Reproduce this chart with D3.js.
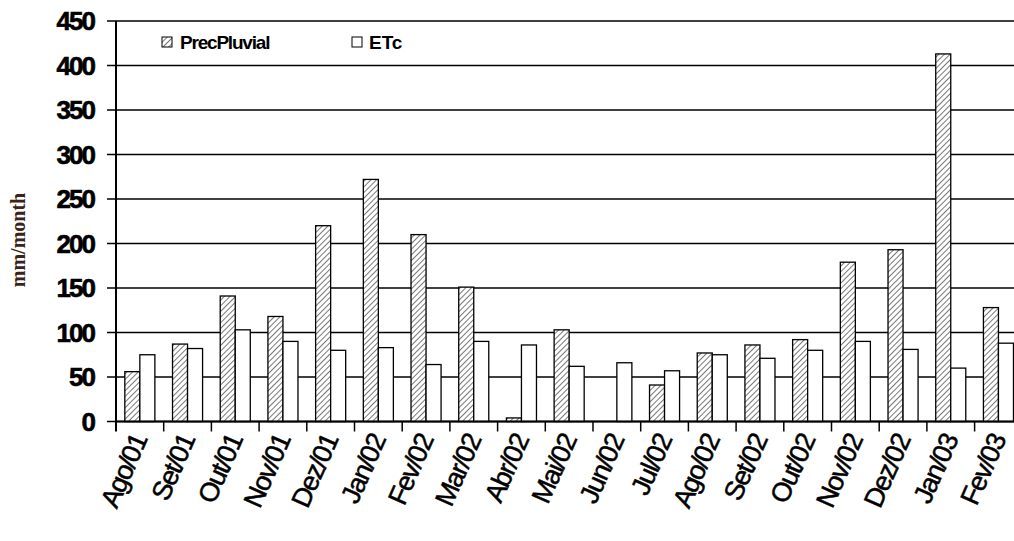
<!DOCTYPE html>
<html><head><meta charset="utf-8">
<script src="https://cdn.jsdelivr.net/npm/d3@7/dist/d3.min.js"></script>
<style>body{margin:0;background:#fff}</style>
</head><body>
<svg id="chart" width="1014" height="541"></svg>
<script>
const months = ['Ago/01','Set/01','Out/01','Nov/01','Dez/01','Jan/02','Fev/02','Mar/02','Abr/02','Mai/02','Jun/02','Jul/02','Ago/02','Set/02','Out/02','Nov/02','Dez/02','Jan/03','Fev/03'];
const precPluvial = [56, 87, 141, 118, 220, 272, 210, 151, 4, 103, 0, 41, 77, 86, 92, 179, 193, 413, 128];
const etc = [75, 82, 103, 90, 80, 83, 64, 90, 86, 62, 66, 57, 75, 71, 80, 90, 81, 60, 88];
const yTicks = [0, 50, 100, 150, 200, 250, 300, 350, 400, 450];

const svg = d3.select('#chart');
const plotLeft = 116, plotTop = 21, plotBottom = 421.5;
const x = d3.scaleBand().domain(months).range([plotLeft, plotLeft + 47.7 * months.length]).paddingInner(0.37).paddingOuter(0.185);
const y = d3.scaleLinear().domain([0, 450]).range([plotBottom, plotTop]);

const defs = svg.append('defs');
const pat = defs.append('pattern').attr('id', 'hatch').attr('patternUnits', 'userSpaceOnUse')
    .attr('width', 4).attr('height', 4).attr('patternTransform', 'rotate(45)');
pat.append('rect').attr('width', 4).attr('height', 4).attr('fill', '#fff');
pat.append('line').attr('x1', 0).attr('y1', 0).attr('x2', 0).attr('y2', 4).attr('stroke', '#555').attr('stroke-width', 1.6);

// gridlines
svg.append('g').selectAll('line').data(yTicks).join('line')
    .attr('x1', plotLeft - 9).attr('x2', 1014).attr('y1', d => y(d)).attr('y2', d => y(d))
    .attr('stroke', '#000').attr('stroke-width', 1.5);
svg.append('g').selectAll('text').data(yTicks).join('text')
    .attr('x', 94).attr('y', d => y(d) + 9).attr('text-anchor', 'end')
    .attr('font-family', 'Liberation Sans, Arial, sans-serif').attr('font-weight', 'bold')
    .attr('font-size', 26).attr('letter-spacing', -2).attr('stroke', '#000').attr('stroke-width', 0.6).text(d => d);

const sub = d3.scaleBand().domain(['p', 'e']).range([0, x.bandwidth()]);
const g = svg.append('g').selectAll('g').data(months).join('g').attr('transform', d => `translate(${x(d)},0)`);
g.append('rect').attr('x', sub('p')).attr('width', sub.bandwidth())
    .attr('y', (d, i) => y(precPluvial[i])).attr('height', (d, i) => plotBottom - y(precPluvial[i]))
    .attr('fill', 'url(#hatch)').attr('stroke', '#000').attr('stroke-width', 1.3);
g.append('rect').attr('x', sub('e')).attr('width', sub.bandwidth())
    .attr('y', (d, i) => y(etc[i])).attr('height', (d, i) => plotBottom - y(etc[i]))
    .attr('fill', '#fff').attr('stroke', '#000').attr('stroke-width', 1.3);

// axes
svg.append('line').attr('x1', plotLeft).attr('x2', plotLeft).attr('y1', plotTop).attr('y2', plotBottom + 10).attr('stroke', '#000').attr('stroke-width', 2);
svg.append('line').attr('x1', plotLeft).attr('x2', 1014).attr('y1', plotBottom).attr('y2', plotBottom).attr('stroke', '#000').attr('stroke-width', 2);
const step = x.step();
svg.append('g').selectAll('line').data(months).join('line')
    .attr('x1', (d, i) => plotLeft + step * (i + 1)).attr('x2', (d, i) => plotLeft + step * (i + 1))
    .attr('y1', plotBottom).attr('y2', plotBottom + 10).attr('stroke', '#000').attr('stroke-width', 1.5);

svg.append('g').selectAll('text').data(months).join('text')
    .attr('transform', d => `translate(${x(d) + x.bandwidth() / 2 + 8},${plotBottom + 18}) rotate(-66)`)
    .attr('text-anchor', 'end').attr('font-family', 'Liberation Sans, Arial, sans-serif')
    .attr('font-size', 27).attr('letter-spacing', -1.5).attr('stroke', '#000').attr('stroke-width', 0.5).text(d => d);

svg.append('text').attr('transform', 'translate(25,240) rotate(-90)').attr('text-anchor', 'middle')
    .attr('font-family', 'Liberation Serif, serif').attr('font-weight', 'bold').attr('font-size', 20)
    .attr('fill', '#3a2418').text('mm/month');

// legend
const leg = svg.append('g').attr('font-family', 'Liberation Sans, Arial, sans-serif').attr('font-weight', 'bold').attr('font-size', 19);
leg.append('rect').attr('x', 162).attr('y', 37).attr('width', 10).attr('height', 10).attr('fill', 'url(#hatch)').attr('stroke', '#000');
leg.append('text').attr('x', 180).attr('y', 49).attr('letter-spacing', -1.2).text('PrecPluvial');
leg.append('rect').attr('x', 352).attr('y', 37).attr('width', 10).attr('height', 10).attr('fill', '#fff').attr('stroke', '#000');
leg.append('text').attr('x', 369).attr('y', 49).text('ETc');
</script>
</body></html>
